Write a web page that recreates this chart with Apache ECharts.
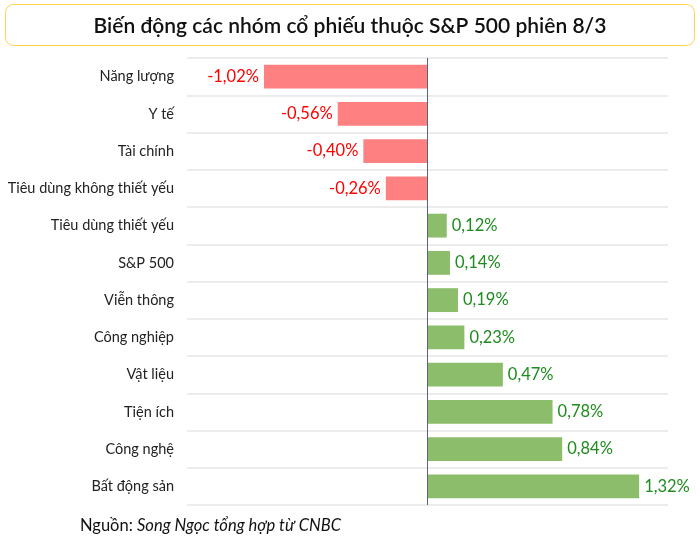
<!DOCTYPE html>
<html>
<head>
<meta charset="utf-8">
<script src="https://cdn.jsdelivr.net/npm/echarts@6/dist/echarts.min.js"></script>
<style>
  html, body { margin: 0; padding: 0; background: #fff; }
  #chart { width: 700px; height: 546px; }
</style>
</head>
<body>
<div id="chart"></div>
<script>
// danh mục và giá trị (% thay đổi)
const categories = [
  'Năng lượng', 'Y tế', 'Tài chính', 'Tiêu dùng không thiết yếu',
  'Tiêu dùng thiết yếu', 'S&P 500', 'Viễn thông', 'Công nghiệp',
  'Vật liệu', 'Tiện ích', 'Công nghệ', 'Bất động sản'
];
const values = [-1.02, -0.56, -0.40, -0.26, 0.12, 0.14, 0.19, 0.23, 0.47, 0.78, 0.84, 1.32];

const titleText = 'Biến động các nhóm cổ phiếu thuộc S&P 500 phiên 8/3';
const sourceLabel = 'Nguồn: ';
const sourceText = 'Song Ngọc tổng hợp từ CNBC';

const FONT = 'Lato, "Noto Sans", sans-serif';

let chart = echarts.init(document.getElementById('chart'));

// mỗi cột: màu và vị trí nhãn theo dấu
const barData = values.map(v => {
  const neg = v < 0;
  return {
    value: v,
    itemStyle: { color: neg ? '#ff8080' : '#8cbd6a' },
    label: {
      position: neg ? 'left' : 'right',
      color: neg ? '#ff0000' : '#1e8c1e'
    }
  };
});

chart.setOption({
  animation: false,
  graphic: [
    {
      type: 'rect',
      shape: { x: 5.5, y: 4.5, width: 689, height: 41, r: 8 },
      style: { fill: '#fff', stroke: '#fdd44c', lineWidth: 1 }
    },
    {
      type: 'text',
      x: 350, y: 26,
      style: {
        text: titleText,
        font: '600 21px ' + FONT,
        fill: '#111',
        textAlign: 'center',
        textVerticalAlign: 'middle'
      }
    },
    {
      type: 'text',
      x: 80, y: 526,
      style: {
        text: '{a|' + sourceLabel + '}{b|' + sourceText + '}',
        textVerticalAlign: 'middle',
        rich: {
          a: { font: '16.5px ' + FONT, fill: '#111' },
          b: { font: 'italic 16.5px ' + FONT, fill: '#111' }
        }
      }
    }
  ],
  grid: { left: 187, right: 32, top: 58, bottom: 41 },
  xAxis: {
    type: 'value',
    min: -1.5,
    max: 1.5,
    axisLine: { show: false },
    axisTick: { show: false },
    axisLabel: { show: false },
    splitLine: { show: false }
  },
  yAxis: {
    type: 'category',
    data: categories,
    inverse: true,
    axisLine: { show: false },
    axisTick: { show: false },
    axisLabel: { color: '#222', fontSize: 14.5, fontFamily: FONT, margin: 13 },
    splitLine: { show: true, lineStyle: { color: '#e6e6e6', width: 1.5 } }
  },
  series: [{
    type: 'bar',
    data: barData,
    barCategoryGap: '36%',
    label: {
      show: true,
      fontSize: 16.5,
      fontFamily: FONT,
      distance: 5,
      formatter: p => p.value.toFixed(2).replace('.', ',') + '%'
    },
    markLine: {
      silent: true,
      symbol: 'none',
      label: { show: false },
      lineStyle: { color: '#5b6577', width: 1, type: 'solid' },
      data: [{ xAxis: 0 }]
    }
  }]
});
</script>
</body>
</html>
